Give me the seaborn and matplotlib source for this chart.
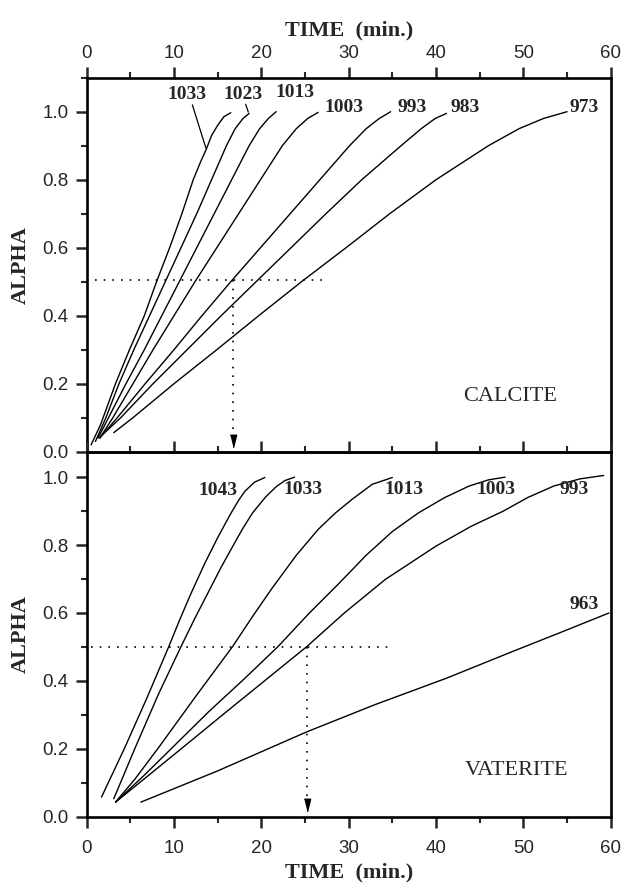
import numpy as np
import pandas as pd
import seaborn as sns
import matplotlib.pyplot as plt
from matplotlib.ticker import MultipleLocator

# ---- calcite (upper panel): time (min) vs alpha, one curve per temperature (K)
calcite_labels = ['1033', '1023', '1013', '1003', '993', '983', '973']
c1033_t = [0.5, 1.6, 3.3, 4.9, 6.6, 8.0, 9.5, 10.9, 12.2, 13.0, 13.7, 14.3, 15.0, 15.7, 16.5]
c1033_a = [0.02, 0.08, 0.2, 0.3, 0.4, 0.5, 0.6, 0.7, 0.8, 0.85, 0.89, 0.93, 0.96, 0.985, 0.997]
c1023_t = [1.0, 2.2, 3.7, 5.4, 7.2, 9.0, 10.8, 12.6, 14.3, 16.0, 17.0, 17.9, 18.6]
c1023_a = [0.03, 0.1, 0.2, 0.3, 0.4, 0.5, 0.6, 0.7, 0.8, 0.9, 0.95, 0.98, 0.995]
c1013_t = [1.3, 2.7, 4.5, 6.6, 8.6, 10.6, 12.6, 14.6, 16.6, 18.6, 19.8, 20.8, 21.7]
c1013_a = [0.04, 0.11, 0.2, 0.3, 0.4, 0.5, 0.6, 0.7, 0.8, 0.9, 0.95, 0.98, 1.0]
c1003_t = [1.5, 3.0, 5.3, 7.6, 10.0, 12.4, 14.9, 17.4, 19.9, 22.4, 24.0, 25.3, 26.5]
c1003_a = [0.04, 0.1, 0.2, 0.3, 0.4, 0.5, 0.6, 0.7, 0.8, 0.9, 0.95, 0.98, 0.998]
c993_t = [1.5, 3.5, 6.7, 10.0, 13.2, 16.5, 19.9, 23.3, 26.7, 30.1, 32.0, 33.5, 34.8]
c993_a = [0.04, 0.1, 0.2, 0.3, 0.4, 0.5, 0.6, 0.7, 0.8, 0.9, 0.95, 0.98, 1.0]
c983_t = [1.6, 3.9, 7.6, 11.5, 15.4, 19.4, 23.4, 27.4, 31.5, 36.0, 38.3, 39.9, 41.2]
c983_a = [0.045, 0.1, 0.2, 0.3, 0.4, 0.5, 0.6, 0.7, 0.8, 0.9, 0.95, 0.98, 0.995]
c973_t = [3.1, 5.3, 10.0, 14.9, 19.7, 24.6, 29.7, 34.7, 40.0, 46.0, 49.5, 52.3, 55.0]
c973_a = [0.056, 0.1, 0.2, 0.3, 0.4, 0.5, 0.6, 0.7, 0.8, 0.9, 0.95, 0.98, 1.0]

# ---- vaterite (lower panel)
vaterite_labels = ['1043', '1033', '1013', '1003', '993', '963']
v1043_t = [1.7, 4.3, 6.9, 9.4, 10.7, 11.9, 13.5, 15.0, 16.5, 17.4, 18.1, 19.2, 20.4]
v1043_a = [0.058, 0.2, 0.35, 0.501, 0.583, 0.655, 0.745, 0.822, 0.893, 0.932, 0.958, 0.985, 0.999]
v1033_t = [3.1, 5.5, 8.2, 10.8, 12.4, 13.9, 15.4, 16.8, 17.9, 19.0, 20.5, 21.7, 22.7, 23.8]
v1033_a = [0.053, 0.2, 0.36, 0.501, 0.585, 0.66, 0.735, 0.8, 0.85, 0.895, 0.942, 0.972, 0.99, 1.0]
v1013_t = [3.3, 5.5, 8.3, 12.5, 16.7, 19.0, 21.2, 24.0, 26.5, 28.5, 30.4, 32.7, 35.0]
v1013_a = [0.043, 0.11, 0.206, 0.355, 0.501, 0.59, 0.672, 0.77, 0.846, 0.895, 0.935, 0.979, 0.999]
v1003_t = [3.3, 6.5, 9.9, 14.0, 18.0, 21.9, 25.5, 29.0, 32.0, 35.0, 38.0, 41.0, 43.8, 46.0, 47.9]
v1003_a = [0.043, 0.12, 0.206, 0.31, 0.405, 0.501, 0.6, 0.69, 0.77, 0.84, 0.895, 0.94, 0.974, 0.992, 1.0]
v993_t = [3.3, 7.0, 11.1, 15.8, 20.5, 25.2, 29.5, 34.2, 40.0, 44.0, 47.7, 50.5, 53.5, 56.5, 59.2]
v993_a = [0.043, 0.12, 0.206, 0.305, 0.403, 0.501, 0.6, 0.699, 0.797, 0.855, 0.9, 0.94, 0.974, 0.995, 1.005]
v963_t = [6.2, 15.0, 25.2, 33.0, 41.2, 48.8, 54.0, 59.8]
v963_a = [0.043, 0.135, 0.25, 0.33, 0.408, 0.487, 0.54, 0.6]

# half-conversion read-outs (dotted guides)
calcite_half_t, calcite_half_a = 16.7, 0.506
vaterite_half_t, vaterite_half_a = 25.2, 0.501


def long_form(labels, series):
    frames = []
    for lab, (t, a) in zip(labels, series):
        frames.append(pd.DataFrame({'time': t, 'alpha': a, 'temp': lab}))
    return pd.concat(frames, ignore_index=True)


df_c = long_form(calcite_labels, [(c1033_t, c1033_a), (c1023_t, c1023_a), (c1013_t, c1013_a),
                                  (c1003_t, c1003_a), (c993_t, c993_a), (c983_t, c983_a),
                                  (c973_t, c973_a)])
df_v = long_form(vaterite_labels, [(v1043_t, v1043_a), (v1033_t, v1033_a), (v1013_t, v1013_a),
                                   (v1003_t, v1003_a), (v993_t, v993_a), (v963_t, v963_a)])

sns.set_style('ticks')
plt.rcParams['font.family'] = ['Liberation Sans', 'DejaVu Sans']
SERIF = ['Liberation Serif', 'DejaVu Serif']

fig = plt.figure(figsize=(6.3, 8.93), dpi=100)
ax1 = fig.add_axes([0.1376, 0.4942, 0.8318, 0.4188])
ax2 = fig.add_axes([0.1376, 0.0854, 0.8318, 0.4088])

for ax, df in [(ax1, df_c), (ax2, df_v)]:
    sns.lineplot(data=df, x='time', y='alpha', units='temp', estimator=None,
                 color='black', lw=1.0, sort=False, ax=ax, legend=False)

dot = (0, (1, 4.2))
guide_kw = dict(color='black', lw=1.2, ls=dot)
tri = [(-1, 2), (1, 2), (0, -2)]

# upper guides
ax1.plot([1.0, 27.5], [calcite_half_a, calcite_half_a], **guide_kw)
ax1.plot([calcite_half_t, calcite_half_t], [calcite_half_a, 0.04], **guide_kw)
ax1.plot([calcite_half_t], [0.03], marker=tri, ms=9, color='black', ls='none')
# lower guides
ax2.plot([0.5, 35.0], [vaterite_half_a, vaterite_half_a], **guide_kw)
ax2.plot([vaterite_half_t, vaterite_half_t], [vaterite_half_a, 0.045], **guide_kw)
ax2.plot([vaterite_half_t], [0.035], marker=tri, ms=9, color='black', ls='none')

# curve labels
lab_kw = dict(family=SERIF, fontweight='bold', fontsize=14, ha='center', va='center')
c_pos = {'1033': (11.5, 1.052), '1023': (17.9, 1.052), '1013': (23.8, 1.055),
         '1003': (29.4, 1.012), '993': (37.3, 1.013), '983': (43.3, 1.013), '973': (56.9, 1.013)}
for lab, (x, y) in c_pos.items():
    ax1.text(x, y, lab, **lab_kw)
ax1.plot([12.1, 13.65], [1.02, 0.893], color='black', lw=0.9)
ax1.plot([18.2, 18.5], [1.022, 0.999], color='black', lw=0.9)

v_pos = {'1043': (15.0, 0.96), '1033': (24.8, 0.963), '1013': (36.3, 0.963),
         '1003': (46.9, 0.965), '993': (55.8, 0.963), '963': (56.9, 0.625)}
for lab, (x, y) in v_pos.items():
    ax2.text(x, y, lab, **lab_kw)

ax1.text(48.5, 0.162, 'CALCITE', family=SERIF, fontsize=16, ha='center', va='center')
ax2.text(49.2, 0.137, 'VATERITE', family=SERIF, fontsize=16, ha='center', va='center')

# axes styling
for ax, ytop in [(ax1, 1.1), (ax2, 1.075)]:
    ax.set_xlim(0, 60)
    ax.set_ylim(0, ytop)
    ax.xaxis.set_major_locator(MultipleLocator(10))
    ax.xaxis.set_minor_locator(MultipleLocator(5))
    ax.yaxis.set_major_locator(MultipleLocator(0.2))
    ax.yaxis.set_minor_locator(MultipleLocator(0.1))
    ax.yaxis.set_major_formatter(plt.FormatStrFormatter('%.1f'))
    ax.xaxis.set_major_formatter(plt.FormatStrFormatter('%d'))
    for s in ax.spines.values():
        s.set_visible(True)
        s.set_linewidth(1.9)
        s.set_color('black')
    ax.tick_params(axis='y', which='major', direction='out', length=8, width=1.8,
                   labelsize=13.5, pad=5, left=True, right=False)
    ax.tick_params(axis='y', which='minor', direction='out', length=4, width=1.5,
                   left=True, right=False)
    ax.set_ylabel('ALPHA', family=SERIF, fontweight='bold', fontsize=16)
    ax.yaxis.set_label_coords(-0.107, 0.5)

ax1.set_yticks(np.arange(0, 1.01, 0.2))
ax2.set_yticks(np.arange(0, 1.01, 0.2))

# upper: labels on top, ticks outward at top
ax1.tick_params(axis='x', which='both', top=True, bottom=False, labeltop=True,
                labelbottom=False, direction='out')
ax1.tick_params(axis='x', which='major', length=8, width=1.8, labelsize=13.5, pad=3)
ax1.tick_params(axis='x', which='minor', length=4, width=1.5)
ax1.xaxis.set_label_position('top')
ax1.set_xlabel('TIME  (min.)', family=SERIF, fontweight='bold', fontsize=16)
ax1.xaxis.set_label_coords(0.5, 1.112)

# lower: bottom ticks outward with labels, top ticks outward pointing into upper panel
ax2.tick_params(axis='x', which='both', top=True, bottom=True, labeltop=False,
                labelbottom=True, direction='out')
ax2.tick_params(axis='x', which='major', length=8, width=1.8, labelsize=13.5, pad=9)
ax2.tick_params(axis='x', which='minor', length=4, width=1.5)
ax2.set_xlabel('TIME  (min.)', family=SERIF, fontweight='bold', fontsize=16)
ax2.xaxis.set_label_coords(0.5, -0.124)
ax2.patch.set_alpha(0)

fig.savefig('out.png', dpi=100)
